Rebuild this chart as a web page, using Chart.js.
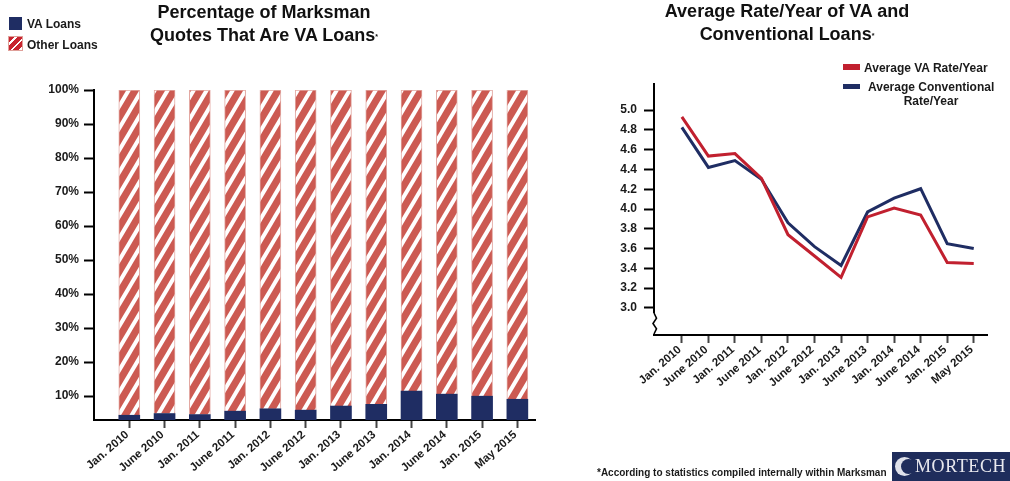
<!DOCTYPE html>
<html>
<head>
<meta charset="utf-8">
<script src="https://cdn.jsdelivr.net/npm/chart.js@4"></script>
<style>
html,body{margin:0;padding:0;background:#fff;}
body{width:1010px;height:481px;position:relative;overflow:hidden;font-family:"Liberation Sans",Arial,sans-serif;color:#1a1a1a;}
canvas{position:absolute;top:0;}
.txt{position:absolute;white-space:nowrap;font-weight:bold;}
.title{font-size:18px;line-height:23px;text-align:center;color:#111;}
.title sup{font-size:7px;line-height:0;vertical-align:2px;}
.leg{font-size:12px;line-height:14px;}
.swatch{position:absolute;}
#logo{position:absolute;left:892px;top:452px;width:118px;height:29px;background:#1f2d5c;overflow:hidden;}
#logo span{position:absolute;left:23px;top:4px;color:#e8e8ee;font:18px "Liberation Serif",serif;letter-spacing:.6px;}
#logo i{position:absolute;left:3px;top:5px;width:19px;height:19px;border-radius:50%;background:#dfe1ea;}
#logo b{position:absolute;left:9px;top:7px;width:15px;height:15px;border-radius:50%;background:#1f2d5c;}
</style>
</head>
<body>
<canvas id="shareCanvas" width="560" height="481" style="left:0"></canvas>
<canvas id="rateCanvas" width="450" height="481" style="left:560px"></canvas>

<div class="txt title" style="left:114px;width:300px;top:1px">Percentage of Marksman<br>Quotes That Are VA Loans<sup>*</sup></div>
<div class="txt title" style="left:637px;width:300px;top:0">Average Rate/Year of VA and<br>Conventional Loans<sup>*</sup></div>

<div class="swatch" style="left:9px;top:17px;width:13px;height:13px;background:#1f2d63"></div>
<div class="txt leg" style="left:27px;top:17px">VA Loans</div>
<div class="swatch" id="otherSwatch" style="left:8px;top:36px;width:15px;height:15px;box-sizing:border-box;border:1px solid #e0a09a;background:repeating-linear-gradient(135deg,#c8242f 0 4px,#fff 4px 6px)"></div>
<div class="txt leg" style="left:27px;top:38px">Other Loans</div>

<div class="swatch" style="left:843px;top:64px;width:17px;height:6px;background:#c1202f"></div>
<div class="txt leg" style="left:864px;top:61px">Average VA Rate/Year</div>
<div class="swatch" style="left:843px;top:84px;width:17px;height:5px;background:#1f2d63"></div>
<div class="txt leg" style="left:868px;top:80px;width:126px;text-align:center">Average Conventional<br>Rate/Year</div>

<div class="txt" style="left:597px;top:467px;font-size:10px">*According to statistics compiled internally within Marksman</div>
<div id="logo"><i></i><b></b><span>MORTECH</span></div>

<script>
const categories = ['Jan. 2010','June 2010','Jan. 2011','June 2011','Jan. 2012','June 2012','Jan. 2013','June 2013','Jan. 2014','June 2014','Jan. 2015','May 2015'];
const vaShare = [4.4,4.9,4.6,5.6,6.3,5.9,7.1,7.6,11.5,10.6,10.0,9.1];
const otherShare = [95.6,95.1,95.4,94.4,93.7,94.1,92.9,92.4,88.5,89.4,90.0,90.9];
const shareTicks = [10,20,30,40,50,60,70,80,90,100];
const vaRate = [4.93,4.535,4.56,4.31,3.74,3.525,3.31,3.92,4.01,3.94,3.46,3.45];
const conventionalRate = [4.825,4.42,4.49,4.30,3.86,3.62,3.43,3.97,4.11,4.205,3.65,3.60];
const rateTicks = [3.0,3.2,3.4,3.6,3.8,4.0,4.2,4.4,4.6,4.8,5.0];

const tickFont = {family:'"Liberation Sans", Arial, sans-serif', size:12, weight:'bold'};
const dateFont = {family:'"Liberation Sans", Arial, sans-serif', size:11.5, weight:'bold'};

function points(values){
    return values.map((v, i) => ({x:i, y:v}));
}

function stripePattern(){
    const w = 13, h = 22;
    const tile = document.createElement('canvas');
    tile.width = w;
    tile.height = h;
    const c = tile.getContext('2d');
    c.fillStyle = '#cc5a52';
    c.fillRect(0, 0, w, h);
    c.strokeStyle = '#fff';
    c.lineWidth = 4;
    // run the stroke past the tile so the stripes join up between tiles
    for(let k = -1; k <= 1; k++){
        c.beginPath();
        c.moveTo((k - 1) * w, h * 2);
        c.lineTo((k + 2) * w, -h);
        c.stroke();
    }
    return document.createElement('canvas').getContext('2d').createPattern(tile, 'repeat');
}

function xAxis(min, max, height, labelShift){
    return {
        type:'linear', min, max, offset:false,
        afterBuildTicks: scale => { scale.ticks = categories.map((_, i) => ({value:i})); },
        afterFit: scale => { scale.height = height; },
        border:{display:true, color:'#000', width:2},
        grid:{offset:false, drawOnChartArea:false, drawTicks:true, tickLength:8, tickWidth:2, color:'#444'},
        ticks:{
            autoSkip:false, minRotation:41, maxRotation:41, padding:0, labelOffset:labelShift,
            color:'#1a1a1a', font:dateFont,
            callback: v => categories[v]
        }
    };
}

function yAxis(min, max, width, values, format, gap){
    return {
        type:'linear', min, max,
        afterBuildTicks: scale => { scale.ticks = values.map(v => ({value:v})); },
        afterFit: scale => { scale.width = width; },
        border:{display:true, color:'#000', width:2},
        grid:{drawOnChartArea:false, drawTicks:true, tickLength:10, tickWidth:2, color:'#000'},
        ticks:{padding:gap, color:'#1a1a1a', font:tickFont, callback:format}
    };
}

// zigzag on the y axis where the scale is cut short
const axisBreak = {
    id:'axisBreak',
    afterDraw(chart){
        const c = chart.ctx, y = chart.scales.y;
        const x = chart.chartArea.left;
        const top = y.getPixelForValue(rateTicks[0]) + 5;
        const bottom = y.bottom - 1;
        const step = (bottom - top) / 4;
        c.save();
        c.fillStyle = '#fff';
        c.fillRect(x - 3, top, 7, bottom - top);
        c.strokeStyle = '#000';
        c.lineWidth = 1.6;
        c.beginPath();
        c.moveTo(x, top);
        c.lineTo(x + 2.5, top + step);
        c.lineTo(x - 1, top + step * 2);
        c.lineTo(x + 2.5, top + step * 3);
        c.lineTo(x, bottom);
        c.stroke();
        c.restore();
    }
};

window.addEventListener('load', () => {
    new Chart(document.querySelector('#shareCanvas'), {
        type:'bar',
        data:{
            datasets:[
                {label:'VA Loans', data:points(vaShare), backgroundColor:'#1f2d63', barThickness:21},
                {label:'Other Loans', data:points(otherShare), backgroundColor:stripePattern(), borderColor:'#e3a8a2', borderWidth:1, barThickness:21}
            ]
        },
        options:{
            responsive:false, animation:false,
            layout:{padding:{top:90, right:25, left:0, bottom:0}},
            plugins:{legend:{display:false}, title:{display:false}, tooltip:{enabled:false}},
            scales:{
                x:Object.assign(xAxis(-1, 11.5, 61, -2), {stacked:true}),
                y:Object.assign(yAxis(3, 100, 94, shareTicks, v => v + '%', 5), {stacked:true})
            }
        }
    });

    new Chart(document.querySelector('#rateCanvas'), {
        type:'line',
        data:{
            datasets:[
                {label:'Average VA Rate/Year', data:points(vaRate), borderColor:'#c1202f', borderWidth:3, pointRadius:0, tension:0},
                {label:'Average Conventional Rate/Year', data:points(conventionalRate), borderColor:'#1f2d63', borderWidth:3, pointRadius:0, tension:0}
            ]
        },
        options:{
            responsive:false, animation:false,
            layout:{padding:{top:84, right:23, left:0, bottom:0}},
            plugins:{legend:{display:false}, title:{display:false}, tooltip:{enabled:false}},
            scales:{
                x:xAxis(-1.05, 11.5, 146, -2),
                y:yAxis(2.727, 5.263, 94, rateTicks, v => v.toFixed(1), 7)
            }
        },
        plugins:[axisBreak]
    });
});
</script>
</body>
</html>
